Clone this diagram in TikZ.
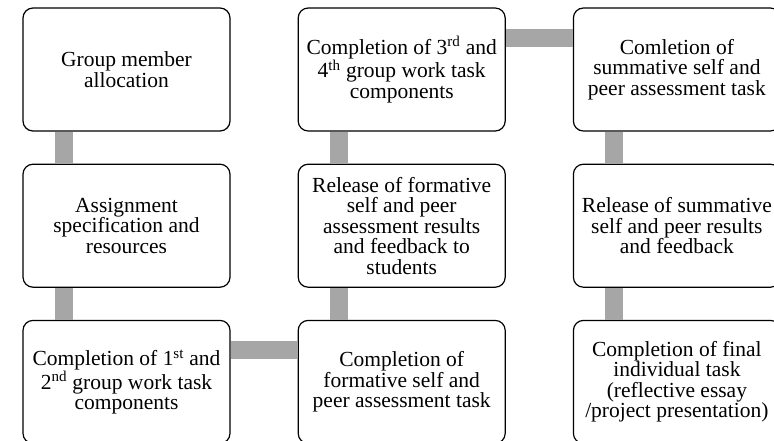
\documentclass[tikz,border=0pt]{standalone}
\usepackage{fontspec}
\setmainfont{Liberation Serif}
\usetikzlibrary{positioning}

\definecolor{linkgray}{HTML}{A6A6A6}

\begin{document}
\begin{tikzpicture}[
        stagebox/.style={draw, line width=1.2pt, rounded corners=10pt, fill=white,
            minimum width=207pt, minimum height=123pt, inner sep=2pt, align=center,
            font=\fontsize{21.5}{20.5}\selectfont},
        link/.style={draw=linkgray, line width=18pt},
        node distance=32pt and 67pt
    ]
        % page frame
        \clip (0, 0) rectangle (774pt, -440pt);
        \useasboundingbox (0, 0) rectangle (774pt, -440pt);

        % first column, top to bottom
        \node[stagebox] (alloc) at (126.5pt, -69.5pt) {Group member\\allocation};
        \node[stagebox, below=of alloc] (spec) {Assignment\\specification and\\resources};
        \node[stagebox, below=of spec] (firsttask) {Completion of 1\textsuperscript{st} and\\2\textsuperscript{nd} group work task\\components};

        % second column, bottom to top
        \node[stagebox, right=of firsttask] (formtask) {Completion of\\formative self and\\peer assessment task};
        \node[stagebox, right=of spec] (formres) {Release of formative\\self and peer\\assessment results\\and feedback to\\students};
        \node[stagebox, right=of alloc] (thirdtask) {Completion of 3\textsuperscript{rd} and\\4\textsuperscript{th} group work task\\components};

        % third column, top to bottom
        \node[stagebox, right=of thirdtask] (sumtask) {Comletion of\\summative self and\\peer assessment task};
        \node[stagebox, right=of formres] (sumres) {Release of summative\\self and peer results\\and feedback};
        \node[stagebox, right=of formtask] (final) {Completion of final\\individual task\\(reflective essay\\/project presentation)};

        % grey links between the stages
        \path[link] ([xshift=-62.5pt]alloc.south) -- ([xshift=-62.5pt]spec.north);
        \path[link] ([xshift=-62.5pt]spec.south) -- ([xshift=-62.5pt]firsttask.north);
        \path[link] ([yshift=32pt]firsttask.east) -- ([yshift=32pt]formtask.west);
        \path[link] ([xshift=-62.5pt]formtask.north) -- ([xshift=-62.5pt]formres.south);
        \path[link] ([xshift=-62.5pt]formres.north) -- ([xshift=-62.5pt]thirdtask.south);
        \path[link] ([yshift=32pt]thirdtask.east) -- ([yshift=32pt]sumtask.west);
        \path[link] ([xshift=-62.5pt]sumtask.south) -- ([xshift=-62.5pt]sumres.north);
        \path[link] ([xshift=-62.5pt]sumres.south) -- ([xshift=-62.5pt]final.north);
    \end{tikzpicture}
\end{document}
